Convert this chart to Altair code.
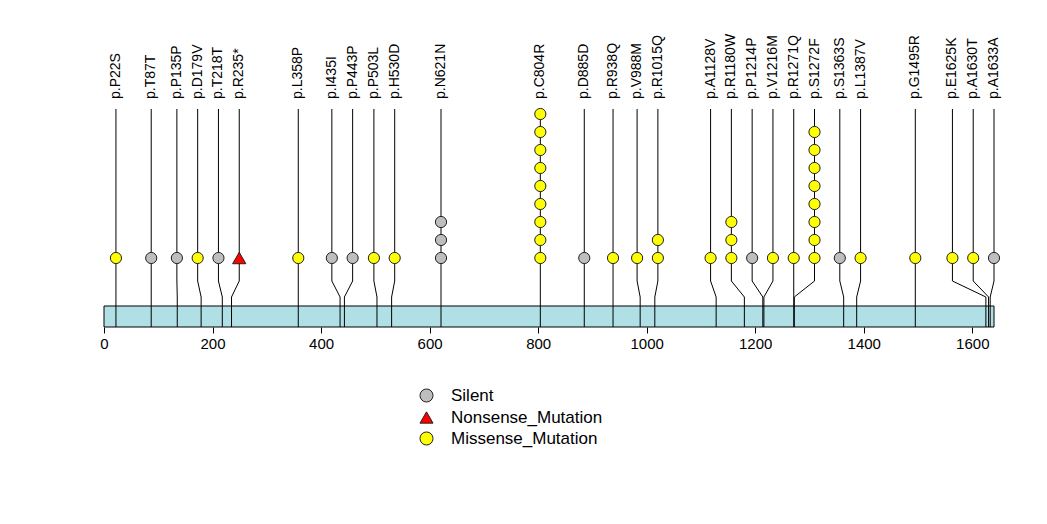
import altair as alt
import pandas as pd

# ---- data ----
labels = ["p.P22S", "p.T87T", "p.P135P", "p.D179V", "p.T218T", "p.R235*", "p.L358P",
          "p.I435I", "p.P443P", "p.P503L", "p.H530D", "p.N621N", "p.C804R", "p.D885D",
          "p.R938Q", "p.V988M", "p.R1015Q", "p.A1128V", "p.R1180W", "p.P1214P",
          "p.V1216M", "p.R1271Q", "p.S1272F", "p.S1363S", "p.L1387V", "p.G1495R",
          "p.E1625K", "p.A1630T", "p.A1633A"]
positions = [22, 87, 135, 179, 218, 235, 358, 435, 443, 503, 530, 621, 804, 885,
             938, 988, 1015, 1128, 1180, 1214, 1216, 1271, 1272, 1363, 1387, 1495,
             1625, 1630, 1633]
types = ["Missense_Mutation", "Silent", "Silent", "Missense_Mutation", "Silent",
         "Nonsense_Mutation", "Missense_Mutation", "Silent", "Silent",
         "Missense_Mutation", "Missense_Mutation", "Silent", "Missense_Mutation",
         "Silent", "Missense_Mutation", "Missense_Mutation", "Missense_Mutation",
         "Missense_Mutation", "Missense_Mutation", "Silent", "Missense_Mutation",
         "Missense_Mutation", "Missense_Mutation", "Silent", "Missense_Mutation",
         "Missense_Mutation", "Missense_Mutation", "Missense_Mutation", "Silent"]
counts = [1, 1, 1, 1, 1, 1, 1, 1, 1, 1, 1, 3, 9, 1, 1, 1, 2, 1, 3, 1, 1, 1, 8, 1,
          1, 1, 1, 1, 1]
protein_length = 1640
axis_ticks = [0, 200, 400, 600, 800, 1000, 1200, 1400, 1600]
legend_order = ["Silent", "Nonsense_Mutation", "Missense_Mutation"]
legend_colors = ["#BEBEBE", "#FF0000", "#FFFF00"]
legend_shapes = ["circle", "triangle-up", "circle"]

# ---- layout (in stack-level units of the y scale) ----
GAP = 38.3            # minimum spacing of lollipop heads, protein units
BAR_BOTTOM = -2.8333
BAR_TOP = -1.6667
KNEE_LOW = -1.1667
KNEE_UP = -0.2778
STEM_TOP = 9.278
LABEL_Y = 9.833
Y_MIN, Y_MAX = -2.8333, 15.3333


def spread(pos, gap, lo, hi):
    """Least-squares repel of sorted positions with a minimum gap (PAV)."""
    q = [p - i * gap for i, p in enumerate(pos)]
    blocks = []
    for v in q:
        blocks.append([v, 1])
        while len(blocks) > 1 and blocks[-2][0] / blocks[-2][1] > blocks[-1][0] / blocks[-1][1]:
            s, c = blocks.pop()
            blocks[-1][0] += s
            blocks[-1][1] += c
    fitted = []
    for s, c in blocks:
        fitted += [s / c] * c
    upper = hi - (len(pos) - 1) * gap
    fitted = [min(max(v, lo), upper) for v in fitted]
    return [v + i * gap for i, v in enumerate(fitted)]


display = spread(positions, GAP, 0, protein_length)

line_rows, dot_rows, label_rows = [], [], []
for i, (lab, p, d, t, c) in enumerate(zip(labels, positions, display, types, counts)):
    for k, (xx, yy) in enumerate([(p, BAR_BOTTOM), (p, KNEE_LOW), (d, KNEE_UP), (d, STEM_TOP)]):
        line_rows.append({"id": i, "o": k, "x": xx, "y": yy})
    for lvl in range(1, c + 1):
        dot_rows.append({"x": d, "y": lvl, "type": t})
    label_rows.append({"x": d, "y": LABEL_Y, "label": lab})

lines_df = pd.DataFrame(line_rows)
dots_df = pd.DataFrame(dot_rows)
labels_df = pd.DataFrame(label_rows)
bar_df = pd.DataFrame([{"x": 0, "x2": protein_length, "y": BAR_BOTTOM, "y2": BAR_TOP}])

xscale = alt.Scale(domain=[0, protein_length], nice=False, zero=False)
yscale = alt.Scale(domain=[Y_MIN, Y_MAX], nice=False, zero=False)
FONT = "Liberation Sans"

bar = alt.Chart(bar_df).mark_rect(fill="#B0E0E6", stroke="black", strokeWidth=1).encode(
    x=alt.X("x:Q", scale=xscale,
            axis=alt.Axis(values=axis_ticks, title=None, grid=False, domain=False,
                          tickSize=6, tickColor="black", labelFontSize=15,
                          labelFont=FONT, labelColor="black", labelPadding=3,
                          labelFlush=False, format="d")),
    x2="x2:Q",
    y=alt.Y("y:Q", scale=yscale, axis=None),
    y2="y2:Q",
)

stems = alt.Chart(lines_df).mark_line(color="black", strokeWidth=1).encode(
    x=alt.X("x:Q", scale=xscale),
    y=alt.Y("y:Q", scale=yscale),
    detail="id:N",
    order="o:Q",
)

color_enc = alt.Color("type:N", scale=alt.Scale(domain=legend_order, range=legend_colors),
                      legend=alt.Legend(title=None, orient="none", legendX=314, legendY=387,
                                        labelFontSize=17, labelFont=FONT, labelColor="black",
                                        symbolSize=170, symbolStrokeColor="#222222",
                                        symbolStrokeWidth=1, rowPadding=3, labelOffset=16,
                                        padding=0))
shape_enc = alt.Shape("type:N", scale=alt.Scale(domain=legend_order, range=legend_shapes))

base_dots = alt.Chart(dots_df).encode(
    x=alt.X("x:Q", scale=xscale),
    y=alt.Y("y:Q", scale=yscale),
    color=color_enc,
    shape=shape_enc,
)
round_dots = base_dots.transform_filter(alt.datum.type != "Nonsense_Mutation").mark_point(
    filled=True, size=125, stroke="#222222", strokeWidth=1, opacity=1)
tri_dots = base_dots.transform_filter(alt.datum.type == "Nonsense_Mutation").mark_point(
    filled=True, size=175, stroke="#222222", strokeWidth=1, opacity=1)

texts = alt.Chart(labels_df).mark_text(angle=270, align="left", baseline="middle",
                                       fontSize=14, font=FONT, color="black").encode(
    x=alt.X("x:Q", scale=xscale),
    y=alt.Y("y:Q", scale=yscale),
    text="label:N",
)

chart = alt.layer(bar, stems, round_dots, tri_dots, texts).properties(
    width=890, height=327,
    background="white",
    autosize=alt.AutoSizeParams(type="none"),
    padding={"left": 104, "top": 0, "right": 53, "bottom": 197},
).configure_view(strokeWidth=0, stroke="transparent")

chart.save("out.html", embed_options={"renderer": "svg", "actions": False})
